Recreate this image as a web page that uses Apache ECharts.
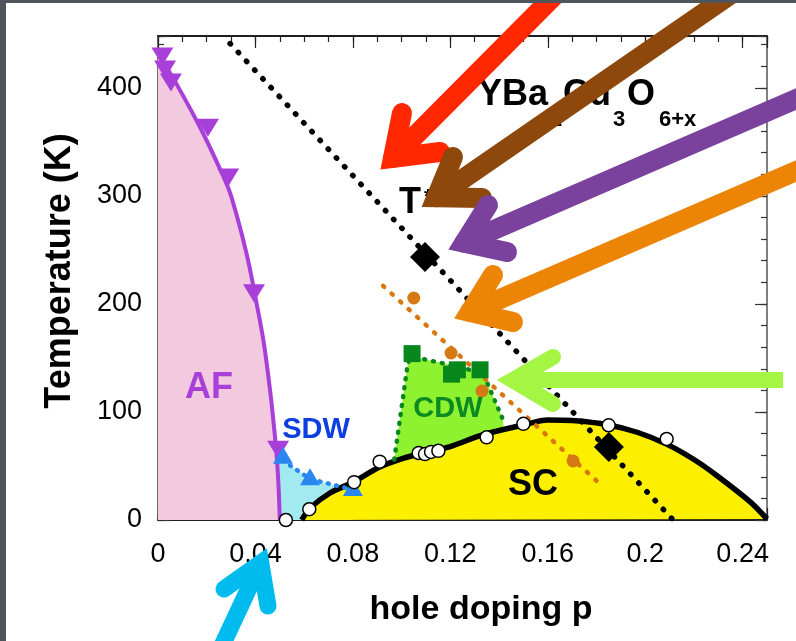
<!DOCTYPE html>
<html><head><meta charset="utf-8">
<script src="https://cdn.jsdelivr.net/npm/echarts@6/dist/echarts.min.js"></script>
<style>html,body{margin:0;padding:0;background:#fff}#c{width:796px;height:641px}</style>
</head><body><div id="c"></div>
<script>
// ---- data (p, T[K]) ----
const xMajorStep = 0.04;
const yMajorStep = 100;
const afLine = [[0,432],[0.0085,400],[0.0185,358],[0.027,317],[0.030,300],[0.036,250],[0.0397,210],[0.0405,200],[0.0418,185],[0.0437,160],[0.046,120],[0.047,100],[0.0487,60],[0.0495,30],[0.050,0]];
const afTriangles = [[0.0018,429],[0.0029,417],[0.0053,405],[0.0205,363],[0.0288,317],[0.0394,210],[0.0493,65]];
const sdwTriangles = [[0.0513,60],[0.0624,40],[0.080,30]];
const sdwLine = [[0.0513,55],[0.0624,38],[0.080,28]];
const sdwFill = [[0.0487,60],[0.0513,55],[0.0624,38],[0.080,28],[0.080,0],[0.050,0]];
const scCurve = [[0.059,0],[0.0624,11],[0.0706,25],[0.080,35],[0.091,49],[0.1006,57],[0.109,62],[0.120,68],[0.1335,79],[0.150,88],[0.160,92.5],[0.170,92],[0.185,88],[0.197,81],[0.209,70],[0.220,56],[0.2295,41],[0.243,17],[0.250,1]];
const scCircles = [[0.0525,0],[0.0621,10],[0.0805,35],[0.091,54],[0.107,62],[0.1096,61],[0.1121,63],[0.1151,64],[0.1349,76.5],[0.150,89],[0.185,87.7],[0.2088,75]];
const cdwSquares = [[0.1043,154],[0.1205,135],[0.1229,139],[0.1322,139]];
const cdwLine = [[0.097,56],[0.1026,146],[0.1047,151],[0.117,145],[0.128,139],[0.1334,136],[0.1416,93]];
const cdwFillBottom = [[0.1425,70],[0.097,40]];
const orangeCircles = [[0.105,205.5],[0.1203,154.6],[0.133,119.4],[0.1704,54.6]];
const orangeLine = [[0.0924,216.7],[0.181,34.3]];
const tStarLine = [[0.0296,441],[0.2115,0]];
const tStarDiamonds = [[0.1096,243.5],[0.1851,67.6]];

const FONT = '"Liberation Sans", Arial, Helvetica, sans-serif';
const chart = echarts.init(document.getElementById('c'), null, {renderer:'canvas'});

function isMajor(v, step){ const r = v/step; return Math.abs(r-Math.round(r))<1e-6; }
function poly(points, color, z){
  return {type:'custom', coordinateSystem:'cartesian2d', silent:true, z:z, clip:true,
    encode:{x:0,y:1}, data:[points[0]],
    renderItem:(params, api)=>({type:'polygon', shape:{points:points.map(p=>api.coord(p))}, style:{fill:color, stroke:null}})};
}
function arrow(start, tip, a1, a2, color, w, butt){
  const u=(a,b)=>{const dx=b[0]-a[0],dy=b[1]-a[1],l=Math.hypot(dx,dy);return [dx/l,dy/l];};
  const d1=u(tip,a1), d2=u(tip,a2);
  let bx=d1[0]+d2[0], by=d1[1]+d2[1]; const bl=Math.hypot(bx,by); bx/=bl; by/=bl;
  const cos2=d1[0]*d2[0]+d1[1]*d2[1]; const phi=Math.acos(Math.max(-1,Math.min(1,cos2)))/2;
  const off=(w/2)/Math.sin(phi) - 5;
  const v=[tip[0]+bx*off, tip[1]+by*off];
  return [
    {type:'polyline', z:100, shape:{points:[start, v]}, style:{stroke:color, lineWidth:w, lineCap: butt?'butt':'round', fill:null}},
    {type:'polyline', z:100, shape:{points:[a1, v, a2]}, style:{stroke:color, lineWidth:w, lineCap:'round', lineJoin:'miter', miterLimit:20, fill:null}}
  ];
}
function txt(s, x, y, size, color, align, extra){
  return Object.assign({type:'text', z:50, x:x, y:y, style:{text:s, fill:color, font:'bold '+size+'px '+FONT, align:align||'center', verticalAlign:'middle'}}, extra||{});
}

const axisLabelX = {fontSize:27, color:'#000', fontFamily:FONT, margin:21,
  formatter:v=>isMajor(v,xMajorStep)?String(parseFloat(v.toFixed(2))):''};
const axisLabelY = {fontSize:27, color:'#000', fontFamily:FONT, margin:16,
  formatter:v=>isMajor(v,yMajorStep)?String(Math.round(v)):''};

function xa(pos, interval, len, lineColor, label){
  return {type:'value', position:pos, min:0, max:0.25, interval:interval,
    axisLine:{show:true, onZero:false, lineStyle:{color:lineColor, width:1.5}},
    axisTick:{show:true, inside:true, length:len, lineStyle:{color:'#222', width:1.2}},
    axisLabel: label? axisLabelX : {show:false}, splitLine:{show:false}};
}
function ya(pos, interval, len, lineColor, label){
  return {type:'value', position:pos, min:0, max:448, interval:interval,
    axisLine:{show:true, onZero:false, lineStyle:{color:lineColor, width:1.5}},
    axisTick:{show:true, inside:true, length:len, lineStyle:{color:'#333', width:1.2}},
    axisLabel: label? axisLabelY : {show:false}, splitLine:{show:false}};
}

const option = {
  animation:false,
  backgroundColor:'#ffffff',
  grid:{left:158, right:29, top:36, bottom:121},
  xAxis:[xa('bottom',0.01,6,'#111',true), xa('bottom',0.04,12,'#111',false), xa('top',0.01,6,'#111',false), xa('top',0.04,12,'#111',false)],
  yAxis:[ya('left',20,6,'#666',true), ya('left',100,12,'#666',false), ya('right',20,6,'#777',false), ya('right',100,12,'#777',false)],
  series:[
    poly(afLine.concat([[0,0]]), '#f2c9de', 1),
    poly(sdwFill, '#a2eaf0', 1),
    poly(cdwLine.concat(cdwFillBottom), '#8ff231', 1),
    poly(scCurve, '#fcf000', 2),
    {type:'line', data:afLine, smooth:0.4, showSymbol:false, z:3, silent:true, lineStyle:{color:'#a83fd8', width:4}},
    {type:'line', data:scCurve, smooth:0.3, showSymbol:false, z:3, silent:true, lineStyle:{color:'#000', width:5.5}},
    {type:'line', data:sdwLine, showSymbol:false, z:3, silent:true, lineStyle:{color:'#2a86f0', width:4.5, type:[1,7.5], cap:'round'}},
    {type:'line', data:cdwLine, showSymbol:false, z:3, silent:true, lineStyle:{color:'#07871c', width:4.5, type:[1,8], cap:'round'}},
    {type:'line', data:orangeLine, showSymbol:false, z:3, silent:true, lineStyle:{color:'#d9780f', width:4.5, type:[1.5,10], cap:'round'}},
    {type:'line', data:tStarLine, showSymbol:false, z:3, silent:true, clip:false, lineStyle:{color:'#000', width:5.5, type:[0.5,11.5], cap:'round'}},
    {type:'scatter', data:afTriangles, symbol:'triangle', symbolRotate:180, symbolSize:[22,18], z:4, silent:true, itemStyle:{color:'#a83fd8', opacity:1}},
    {type:'scatter', data:sdwTriangles, symbol:'triangle', symbolSize:[20,17], z:4, silent:true, itemStyle:{color:'#2a86f0', opacity:1}},
    {type:'scatter', data:scCircles, symbol:'circle', symbolSize:13, z:5, silent:true, clip:false, itemStyle:{color:'#fff', borderColor:'#000', borderWidth:1.5, opacity:1}},
    {type:'scatter', data:cdwSquares, symbol:'rect', symbolSize:17, z:4, silent:true, itemStyle:{color:'#07871c', opacity:1}},
    {type:'scatter', data:orangeCircles, symbol:'circle', symbolSize:13, z:4, silent:true, itemStyle:{color:'#d57912', opacity:1}},
    {type:'scatter', data:tStarDiamonds, symbol:'diamond', symbolSize:30, z:4, silent:true, itemStyle:{color:'#000', opacity:1}}
  ],
  graphic:[
    {type:'rect', z:200, shape:{x:0,y:0,width:6,height:641}, style:{fill:'#50555c'}},
    {type:'rect', z:200, shape:{x:0,y:0,width:796,height:3}, style:{fill:'#50555c'}},
    txt('AF',209,388,36,'#a83fd8'),
    txt('SDW',316,430,29,'#0d3fe0'),
    txt('CDW',448,409,29,'#0a8a20'),
    txt('SC',533,485,36,'#000'),
    txt('T',399,203,36,'#000','left'),
    txt('*',424,197,20,'#000','left'),
    txt('YBa',478,95.5,36,'#000','left'),
    txt('2',550,120,22,'#000','left'),
    txt('Cu',563,95.5,36,'#000','left'),
    txt('3',613,120,22,'#000','left'),
    txt('O',627,95.5,36,'#000','left'),
    txt('6+x',659,120,22,'#000','left'),
    txt('Temperature (K)',60,271,36,'#000','center',{rotation:Math.PI/2}),
    txt('hole doping p',481,610,34,'#000'),
  ].concat(
    arrow([565,-15],[380,170],[402,113],[440,152],'#ff2800',20),
    arrow([737,-10],[420,208],[453,157],[482,198],'#8e480c',20),
    arrow([810,93],[447,250],[488,205],[507,252],'#7a429c',20),
    arrow([810,165],[453,319],[493,275],[513,322],'#ec8505',20),
    arrow([783,380],[497,380],[553,357],[553,404],'#a5f544',16,true),
    arrow([220,650],[267,548],[224,589],[268,606],'#00bbee',17)
  )
};
chart.setOption(option);
</script></body></html>
